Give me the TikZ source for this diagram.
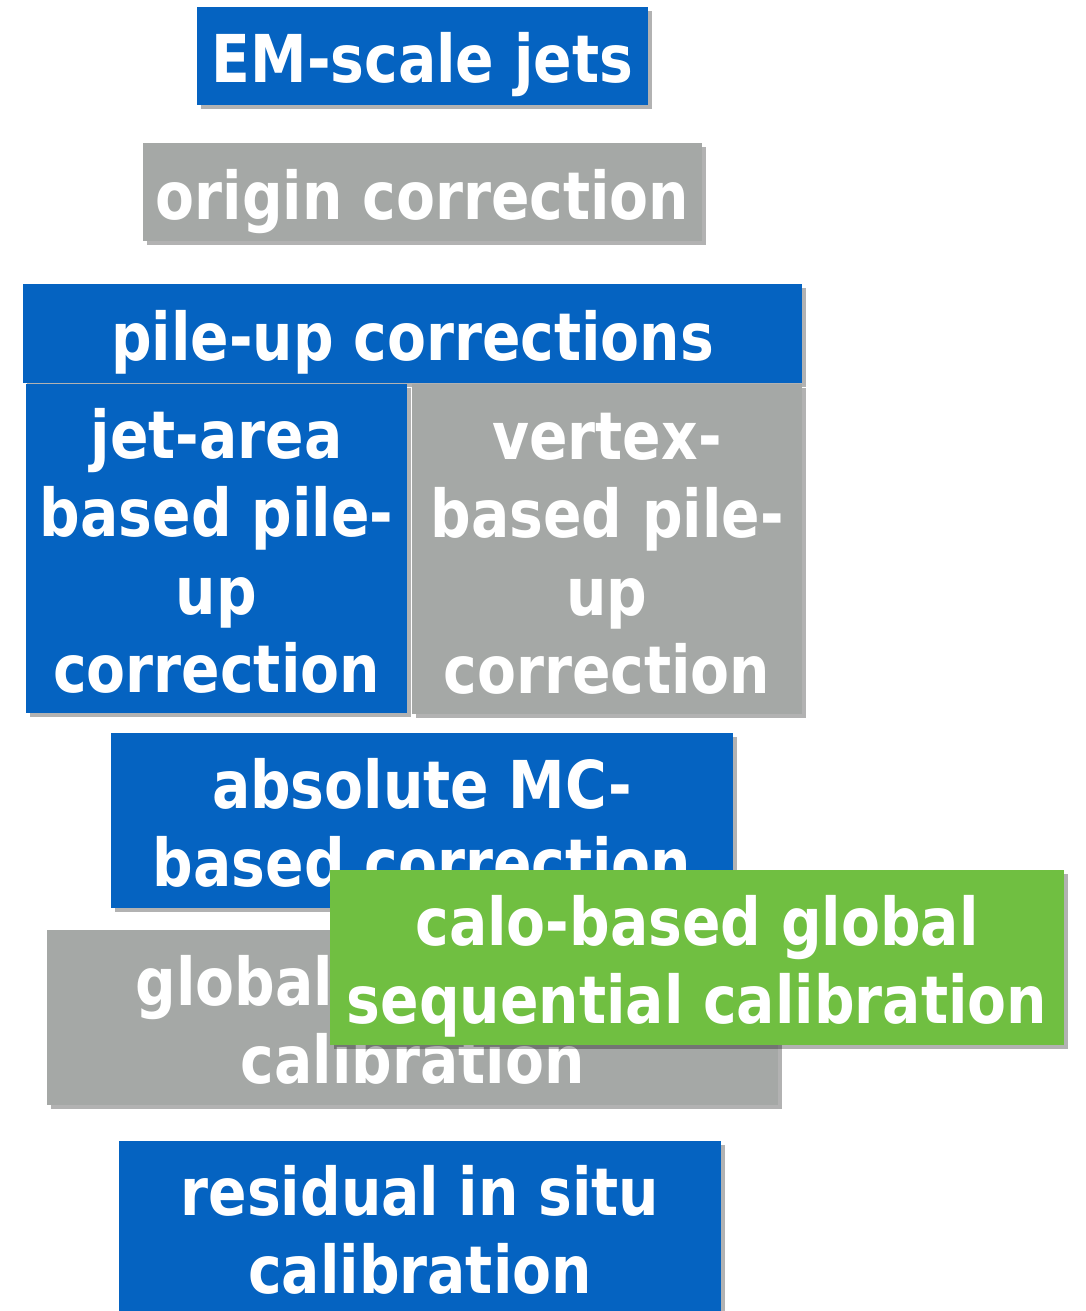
\documentclass[tikz,border=0pt]{standalone}
\usepackage{fontspec}
\setmainfont[FakeStretch=0.86]{DejaVu Sans}
\usetikzlibrary{shadows}
\definecolor{boxblue}{RGB}{5,99,193}
\definecolor{boxgray}{RGB}{165,168,166}
\definecolor{boxgreen}{RGB}{112,191,65}
\newcommand\firstheight{\rule{0pt}{72pt}}
\newcommand\lastdepth{\rule[-18pt]{0pt}{0pt}}
\tikzset{
  stagebox/.style={rectangle, inner sep=0pt, align=center, text=white,
    font=\fontsize{66}{78}\selectfont\bfseries,
    drop shadow={shadow xshift=4pt, shadow yshift=-4pt, fill=black, opacity=0.3}},
  bluebox/.style={stagebox, fill=boxblue},
  graybox/.style={stagebox, fill=boxgray},
  greenbox/.style={stagebox, fill=boxgreen},
}
\begin{document}
\begin{tikzpicture}[x=1pt,y=-1pt]
\useasboundingbox (0,0) rectangle (1085,1311);
\clip (0,0) rectangle (1085,1311);
\node[bluebox, minimum width=451pt, minimum height=98pt] (em) at (422.5,56) {\firstheight EM-scale jets\lastdepth};
\node[graybox, minimum width=559pt, minimum height=98pt] (origin) at (422.5,192) {\firstheight origin correction\lastdepth};
\node[bluebox, minimum width=779pt, minimum height=99pt] (pileup) at (412.5,333.5) {\firstheight pile-up corrections\lastdepth};
\node[bluebox, minimum width=381pt, minimum height=329pt] (jetarea) at (216.5,548.5) {\firstheight jet-area\\based pile-\\up\\correction\lastdepth};
\node[graybox, minimum width=390pt, minimum height=330pt] (vertex) at (607,549) {\firstheight vertex-\\based pile-\\up\\correction\lastdepth};
\node[graybox, minimum width=731pt, minimum height=175pt] (gsc) at (412.5,1017.5) {\firstheight global sequential\\calibration\lastdepth};
\node[bluebox, minimum width=622pt, minimum height=175pt] (absmc) at (422,820.5) {\firstheight absolute MC-\\based correction\lastdepth};
\node[greenbox, minimum width=734pt, minimum height=175pt] (calo) at (697,957.5) {\firstheight calo-based global\\sequential calibration\lastdepth};
\node[bluebox, minimum width=602pt, minimum height=172pt] (resid) at (420,1227) {\firstheight residual in situ\\calibration\lastdepth};
\end{tikzpicture}
\end{document}
